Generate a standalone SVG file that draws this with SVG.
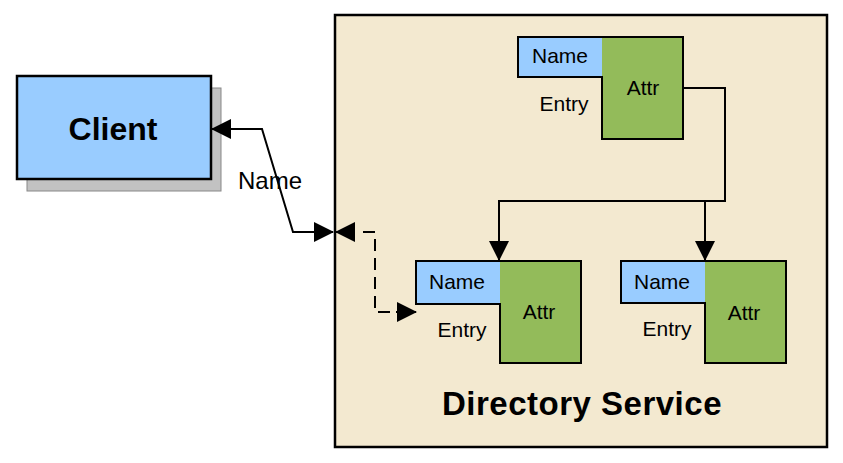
<svg xmlns="http://www.w3.org/2000/svg" width="843" height="463" viewBox="0 0 843 463">
<defs>
<marker id="arr" viewBox="0 0 20 20" refX="19" refY="10" markerWidth="20" markerHeight="20" markerUnits="userSpaceOnUse" orient="auto-start-reverse">
<path d="M0,0 L20,10 L0,20 Z" fill="#000"/>
</marker>
</defs>
<style>
.t{font-family:"Liberation Sans",Arial,sans-serif;fill:#000;}
.b{font-weight:bold;}
.name{fill:#99CCFF;}
.attr{fill:#93BB5A;}
.out{fill:none;stroke:#000;stroke-width:2;}
.ln{fill:none;stroke:#000;stroke-width:2;}
.dash{stroke-dasharray:12 7;}
.small{font-size:21px;text-anchor:middle;}
</style>
<rect width="843" height="463" fill="#FFFFFF"/>

<g id="directory-service">
<rect x="335" y="15" width="492" height="432" fill="#F3E9D0" stroke="#000" stroke-width="2.5"/>
<text class="t b" x="582" y="415" font-size="33" text-anchor="middle" letter-spacing="0.5">Directory Service</text>
</g>

<g id="client">
<rect x="27" y="88" width="194" height="103" fill="#C2C2C2" stroke="#888" stroke-width="1"/>
<rect x="17" y="76" width="194" height="103" fill="#99CCFF" stroke="#000" stroke-width="2.5"/>
<text class="t b" x="113" y="140" font-size="32" text-anchor="middle" fill="#000022">Client</text>
</g>

<g id="entry-top">
<rect class="name" x="518" y="37" width="84" height="40"/>
<rect class="attr" x="602" y="37" width="81" height="102"/>
<path class="out" d="M518,37 L683,37 L683,139 L602,139 L602,77 L518,77 Z"/>
<text class="t small" x="560" y="63" fill="#000033">Name</text>
<text class="t small" x="643" y="95">Attr</text>
<text class="t small" x="564" y="111">Entry</text>
</g>

<g id="entry-left">
<rect class="name" x="416" y="261" width="84" height="43"/>
<rect class="attr" x="500" y="261" width="81" height="102"/>
<path class="out" d="M416,261 L581,261 L581,363 L500,363 L500,304 L416,304 Z"/>
<text class="t small" x="457" y="289" fill="#000033">Name</text>
<text class="t small" x="539" y="319">Attr</text>
<text class="t small" x="462" y="337">Entry</text>
</g>

<g id="entry-right">
<rect class="name" x="621" y="261" width="84" height="42"/>
<rect class="attr" x="705" y="261" width="81" height="102"/>
<path class="out" d="M621,261 L786,261 L786,363 L705,363 L705,303 L621,303 Z"/>
<text class="t small" x="662" y="289" fill="#000033">Name</text>
<text class="t small" x="744" y="320">Attr</text>
<text class="t small" x="667" y="336">Entry</text>
</g>

<g id="connectors">
<path class="ln" d="M212,129 L262,129 L293,232 L333,232" marker-start="url(#arr)" marker-end="url(#arr)"/>
<text class="t" x="270" y="189" font-size="24" text-anchor="middle">Name</text>
<path class="ln" d="M336,232 L355,232" marker-start="url(#arr)"/>
<path class="ln dash" d="M363,232 L375,232 L375,312 L397,312"/>
<path class="ln" d="M396,312 L416,312" marker-end="url(#arr)"/>
<path class="ln" d="M683,88 L725,88 L725,201 L499,201 L499,260" marker-end="url(#arr)"/>
<path class="ln" d="M705,201 L705,260" marker-end="url(#arr)"/>
</g>
</svg>
